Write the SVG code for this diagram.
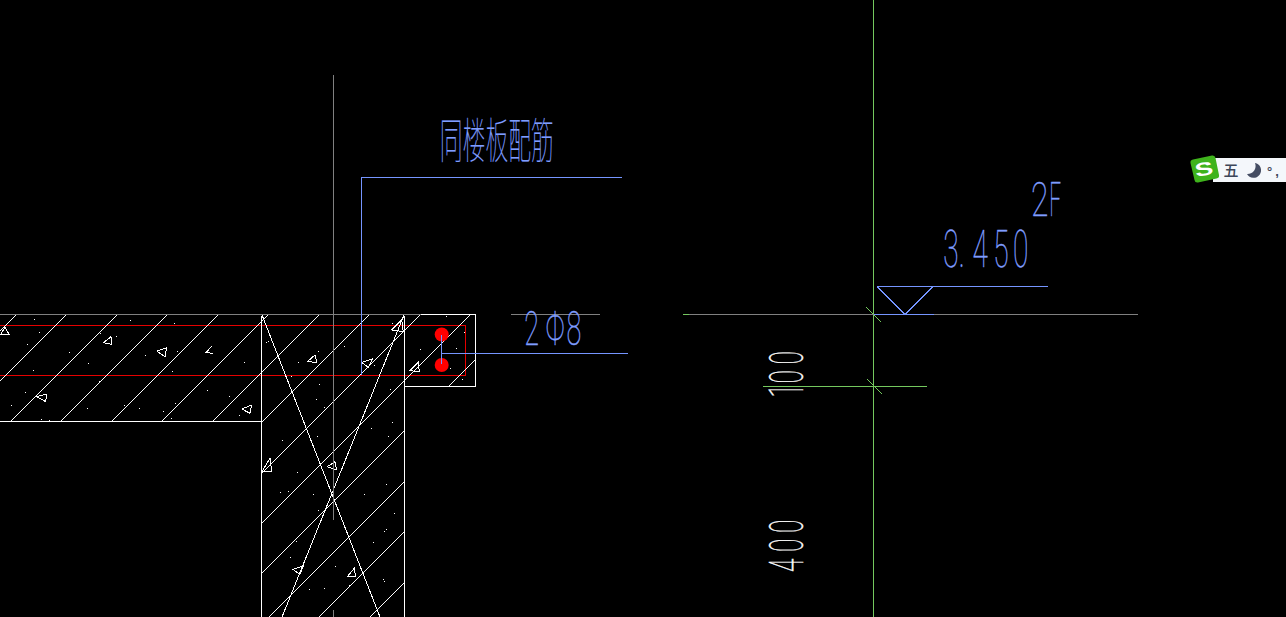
<svg xmlns="http://www.w3.org/2000/svg" width="1286" height="617" viewBox="0 0 1286 617">
<style>
.l{fill:none;stroke-width:1;shape-rendering:crispEdges}
.w{stroke:#fff}.g{stroke:#808080}.r{stroke:#e60000}.b{stroke:#7595ff}.n{stroke:#74c85e}
.t{fill:none;stroke:#fff;stroke-width:1;shape-rendering:crispEdges}
.d{fill:#fff;shape-rendering:crispEdges}
.cad{font-family:Roboto,"Liberation Sans",sans-serif;font-weight:100;font-size:50px}
.bt{fill:#7f9dff;stroke:#7f9dff;stroke-width:.45}.wt{fill:#fff;stroke:#fff;stroke-width:.45}
</style>
<rect width="1286" height="617" fill="#000"/>
<g id="rebar-lines">
<path class="l r" d="M0 325.500H465.500V375.500H0"/>
</g>
<g id="hatch">
<path class="l w" d="M16 315L0 331M66 315L0 381M117 315L11 421M167 315L61 421M218 315L112 421M268 315L162 421M319 315L213 421M369 315L262 422M420 315L262 473M470 315L262 523M475 360L449 386M404 431L262 573M404 482L269 617M404 532L319 617M404 583L370 617"/>
<path class="l w" d="M262 315L380 617M404 315L282 617"/>
</g>
<g id="outline">
<path class="l g" d="M0 314.500H421"/>
<path class="l w" d="M0 421.500H261.500V316M261.500 421.500V617M404.500 617V316M421 314.500H475.500V386.500H404.500"/>
</g>
<g id="aggregate">
<path class="t" d="M5 327.500L.5 334.500L9.500 335ZM111 336.700L103.500 342.700L111.700 344.300ZM156.700 351L166.700 347.700L165 356.700ZM211.700 346L206 352.700L213.300 353.300M36.700 396.700L46.700 394L45.700 401.700ZM241.700 409L251.700 405L250 413.300ZM307.300 361.700L315 355L316.700 362.300ZM361.700 362.300L372.300 359L368.300 367.300ZM391.700 330L401.700 320L403.300 331.700ZM410 370.700L418.300 362.300L419.300 371.700ZM262.300 471L270 458.300L271.700 471.700ZM327.300 466.700L335 461.700L336.700 470ZM292.700 569.300L303.300 566L300 574.300ZM347.300 576.700L354.300 568.300L355.700 576.700Z"/>
<path class="d" d="M34 319h1v1h-1zM130 320h1v1h-1zM174 323h1v1h-1zM39 332h1v1h-1zM116 336h1v1h-1zM100 333h1v1h-1zM27 344h1v1h-1zM69 352h1v1h-1zM145 355h1v1h-1zM177 351h1v1h-1zM192 340h1v1h-1zM223 359h1v1h-1zM244 362h1v1h-1zM88 363h1v1h-1zM33 370h1v1h-1zM172 371h1v1h-1zM99 381h1v1h-1zM25 392h1v1h-1zM207 390h1v1h-1zM229 396h1v1h-1zM11 405h1v1h-1zM87 408h1v1h-1zM124 405h1v1h-1zM139 408h1v1h-1zM175 403h1v1h-1zM163 411h1v1h-1zM239 415h1v1h-1zM41 419h1v1h-1zM49 420h1v1h-1zM171 418h1v1h-1zM268 341h1v1h-1zM266 342h1v1h-1zM318 351h1v1h-1zM298 362h1v1h-1zM344 346h1v1h-1zM392 323h1v1h-1zM374 365h1v1h-1zM291 376h1v1h-1zM319 384h1v1h-1zM316 399h1v1h-1zM324 407h1v1h-1zM390 389h1v1h-1zM392 422h1v1h-1zM446 316h1v1h-1zM464 332h1v1h-1zM420 349h1v1h-1zM456 348h1v1h-1zM450 368h1v1h-1zM462 379h1v1h-1zM282 440h1v1h-1zM317 436h1v1h-1zM371 428h1v1h-1zM388 436h1v1h-1zM297 472h1v1h-1zM280 492h1v1h-1zM288 491h1v1h-1zM313 494h1v1h-1zM318 510h1v1h-1zM364 494h1v1h-1zM386 484h1v1h-1zM394 513h1v1h-1zM384 531h1v1h-1zM386 529h1v1h-1zM296 541h1v1h-1zM373 542h1v1h-1zM290 557h1v1h-1zM312 541h1v1h-1zM335 566h1v1h-1zM383 579h1v1h-1zM384 581h1v1h-1zM309 589h1v1h-1zM324 588h1v1h-1zM349 585h1v1h-1z"/>
</g>
<g id="centre-line">
<path class="l g" d="M333.500 75V520M333.500 610V617"/>
</g>
<g id="rebar">
<circle cx="441.700" cy="334.500" r="7" fill="#f00"/>
<circle cx="441.700" cy="365" r="7" fill="#f00"/>
</g>
<g id="leaders">
<path class="l b" d="M361.500 375V177.500H622M441.500 335V364M441.500 353.500H628"/>
<path class="l g" d="M511 314.500H600"/>
</g>
<g id="level">
<path class="l n" d="M873.500 0V617M763 386.500H927M867 379L882 394M866 307L881 322"/>
<path class="l g" d="M689 314.500H1138"/>
<path class="l n" d="M683 314.500H689"/>
<path class="l b" d="M877 286.500H1048M877 286.500L905 314.500L933 286.500M874 314.500H934"/>
</g>
<g id="labels">
<text class="bt" transform="scale(.475,1)" x="926" y="158" font-size="48" font-weight="100" font-family="'Noto Sans CJK SC','Noto Sans',sans-serif" style="stroke-width:.2">同楼板配筋</text>
<text class="cad bt" transform="scale(.55,1)" x="1715 1743 1768 1806 1842" y="267.500" style="font-size:51px">3.450</text>
<text class="cad bt" transform="scale(.65,1)" x="1586" y="216.500" style="font-size:49px">2</text>
<text class="cad bt" transform="scale(.42,1)" x="2498" y="216.500" style="font-size:49px">F</text>
<text class="cad bt" transform="scale(.55,1)" x="953 992 1030" y="345.500" style="font-size:49px">2Φ8</text>
<text class="cad wt" transform="translate(803 394.500) rotate(-90) scale(.5,1)" x="-6 22 60" y="0" style="font-size:49px">100</text>
<text class="cad wt" transform="translate(803 572) rotate(-90) scale(.5,1)" x="0 40 78" y="0" style="font-size:49px">400</text>
</g>
<g id="ime-bar">
<rect x="1213" y="158" width="73" height="24" fill="#f4f7fb"/>
<path d="M1193 159.500L1212 155.500Q1215 155 1215.500 158L1219 175Q1219.500 178 1216.500 178.500L1198 182.500Q1195 183 1194.500 180L1190.500 163Q1190 160 1193 159.500Z" fill="#3fb31c"/>
<text transform="translate(1205 175.500) rotate(-10) scale(1.25,.85)" text-anchor="middle" fill="#fff" font-family="'Liberation Sans',sans-serif" font-weight="700" font-size="22">S</text>
<text x="1231" y="176" text-anchor="middle" fill="#3d4659" font-family="'Noto Sans CJK SC',sans-serif" font-size="15" font-weight="500">五</text>
<path d="M1255 163A7.500 7.500 0 1 1 1247 174A8 8 0 0 0 1255 163Z" fill="#454d63"/>
<text x="1267" y="176" fill="#3d4659" font-family="'Liberation Sans',sans-serif" font-weight="700" font-size="13" letter-spacing="3">°,</text>
</g>
</svg>
